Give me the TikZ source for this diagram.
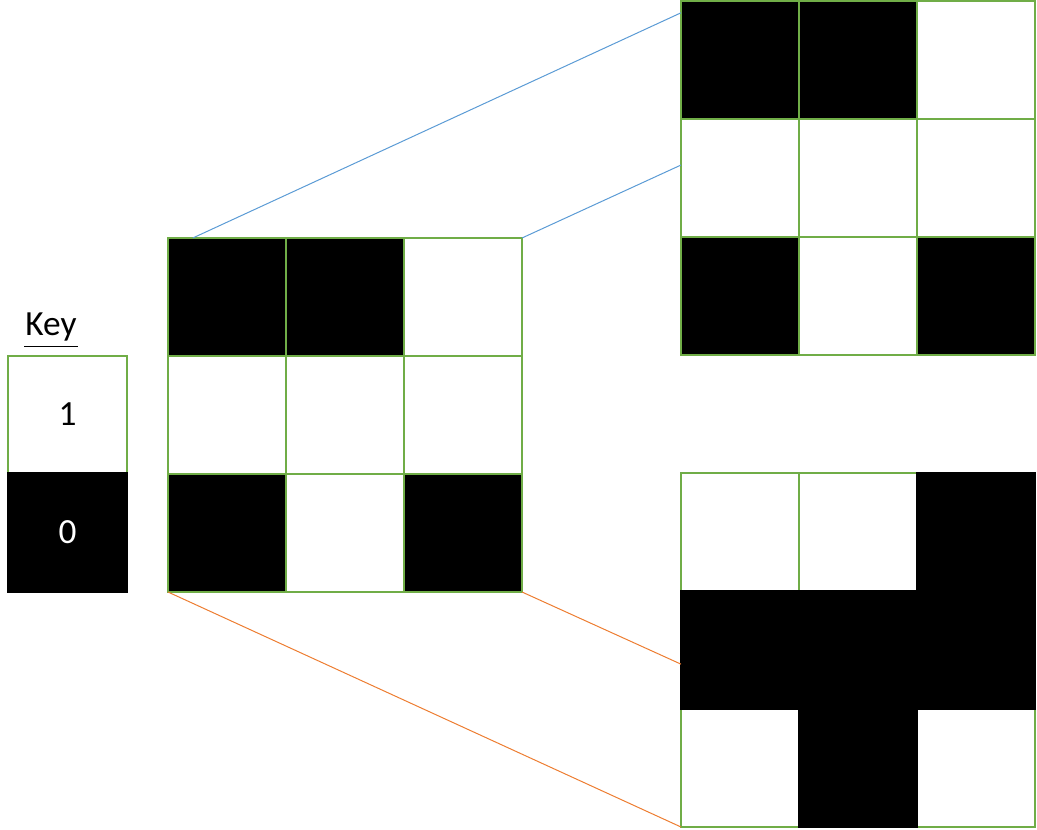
\documentclass[tikz,border=0pt]{standalone}
\usepackage{fontspec}
\setmainfont{Carlito}
\usetikzlibrary{calc}
\definecolor{cgreen}{HTML}{70AD47}
\definecolor{cblue}{HTML}{5B9BD5}
\definecolor{corange}{HTML}{ED7D31}
\begin{document}
\begin{tikzpicture}[x=0.75pt,y=-0.75pt,
  cell/.style={rectangle,minimum size=88.5pt,inner sep=0pt,outer sep=0pt,line width=1.4pt,anchor=north west,font=\fontsize{26.5pt}{30pt}\selectfont},
  wcell/.style={cell,draw=cgreen,fill=white},
  bcell/.style={cell,draw=cgreen,fill=black},
  bfull/.style={cell,draw=black,fill=black},
  bluelink/.style={draw=cblue,line width=0.75pt},
  orangelink/.style={draw=corange,line width=0.75pt}]
\useasboundingbox (0,0) rectangle (1037,830);
% key
\node[font=\fontsize{26.5pt}{30pt}\selectfont,inner sep=0pt] (keylabel) at (51,327) {Key};
\draw[line width=1.3pt] ($(keylabel.south west)+(-1,5)$) -- ($(keylabel.south east)+(1,5)$);
\node[wcell,minimum width=89.25pt,minimum height=87.75pt] (k1) at (8,356) {1};
\node[bfull,minimum width=89.25pt,minimum height=89.25pt,text=white] (k0) at (8,473) {0};
% middle grid
\node[bcell] (m00) at (168,238) {};
\node[bcell] (m01) at (286,238) {};
\node[wcell] (m02) at (404,238) {};
\node[wcell] (m10) at (168,356) {};
\node[wcell] (m11) at (286,356) {};
\node[wcell] (m12) at (404,356) {};
\node[bcell] (m20) at (168,474) {};
\node[wcell] (m21) at (286,474) {};
\node[bcell] (m22) at (404,474) {};
% top right grid
\node[bcell] (t00) at (681,1) {};
\node[bcell] (t01) at (799,1) {};
\node[wcell] (t02) at (917,1) {};
\node[wcell] (t10) at (681,119) {};
\node[wcell] (t11) at (799,119) {};
\node[wcell] (t12) at (917,119) {};
\node[bcell] (t20) at (681,237) {};
\node[wcell] (t21) at (799,237) {};
\node[bcell] (t22) at (917,237) {};
% bottom right grid
\node[wcell] (b00) at (681,473) {};
\node[wcell] (b01) at (799,473) {};
\node[wcell] (b20) at (681,709) {};
\node[wcell] (b22) at (917,709) {};
\node[bfull] (b02) at (917,473) {};
\node[bfull] (b10) at (681,591) {};
\node[bfull] (b11) at (799,591) {};
\node[bfull] (b12) at (917,591) {};
\node[bfull] (b21) at (799,709) {};
% connectors
\coordinate (s1) at ($(m00.north west)!0.21!(m00.north east)$);
\coordinate (e1) at ($(t00.north west)!0.1!(t00.south west)$);
\coordinate (e2) at ($(t10.north west)!0.39!(t10.south west)$);
\coordinate (e4) at ($(b10.north west)!0.62!(b10.south west)$);
\draw[bluelink] (s1) -- (e1);
\draw[bluelink] (m02.north east) -- (e2);
\draw[orangelink] (m20.south west) -- (b20.south west);
\draw[orangelink] (m22.south east) -- (e4);
\end{tikzpicture}
\end{document}
